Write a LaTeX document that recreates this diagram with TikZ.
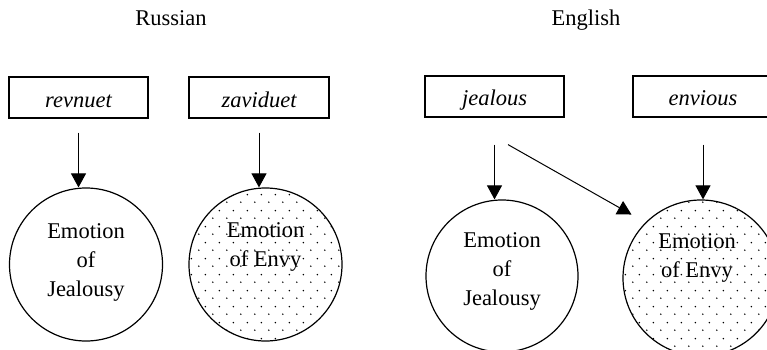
\documentclass[tikz,border=0pt]{standalone}
\usepackage{fontspec}
\setmainfont{Liberation Serif}
\usetikzlibrary{positioning,patterns,calc,arrows.meta}

\pgfdeclarepatternformonly{sparsedots}{\pgfpointorigin}{\pgfqpoint{14pt}{16pt}}{\pgfqpoint{14pt}{16pt}}{%
  \pgfpathcircle{\pgfqpoint{3pt}{4pt}}{0.9pt}%
  \pgfpathcircle{\pgfqpoint{10pt}{12pt}}{0.9pt}%
  \pgfusepath{fill}}

\begin{document}
\begin{tikzpicture}[x=1pt,y=-1pt]
                    \tikzstyle{every node}=[inner sep=0,font=\fontsize{22.5}{29}\selectfont]
                    \tikzstyle{lang}=[anchor=base]
                    \tikzstyle{word}=[draw,line width=1.2pt,rectangle,minimum height=41,text height=19,text depth=0,font=\fontsize{22.5}{29}\selectfont\itshape]
                    \tikzstyle{emotion}=[draw,line width=1.2pt,circle]
                    \tikzstyle{envy}=[emotion,pattern=sparsedots]
                    \tikzstyle{caption}=[align=center]
                    \tikzstyle{link}=[-{Triangle[width=15pt,length=14pt]},line width=1pt]
                    \useasboundingbox (0,0) rectangle (767,350);
                    \clip (0,0) rectangle (767,350);
                    {
                        \node[lang] (russian) at (171,26) {Russian};
                        \node[lang] (english) at (586,26) {English};

                        \node[word,minimum width=139] (revnuet) at (78.5,97.5) {revnuet};
                        \node[word,minimum width=140] (zaviduet) at (259,97.5) {zaviduet};
                        \node[word,minimum width=139] (jealous) at (494.5,96.5) {jealous};
                        \node[word,minimum width=140] (envious) at (703,96.5) {envious};

                        \node[emotion,minimum size=153] (jealR) at (86,264.5) {};
                        \node[envy,minimum size=153] (envyR) at (265.5,264.5) {};
                        \node[emotion,minimum size=152] (jealE) at (502,276) {};
                        \node[envy,minimum size=156] (envyE) at (701,278) {};

                        \node[caption] (jealRtext) at (86,262) {Emotion\\of\\Jealousy};
                        \node[caption] (envyRtext) at (265.5,247) {Emotion\\of Envy};
                        \node[caption] (jealEtext) at (502,271) {Emotion\\of\\Jealousy};
                        \node[caption] (envyEtext) at (697,258) {Emotion\\of Envy};

                        \draw[link] ([yshift=-14]revnuet.south) -- (revnuet.south |- jealR.north);
                        \draw[link] ([yshift=-14]zaviduet.south) -- (zaviduet.south |- envyR.north);
                        \draw[link] ([yshift=-27]jealous.south) -- (jealous.south |- jealE.north);
                        \draw[link] ([yshift=-27]envious.south) -- (envious.south |- envyE.north);
                        \draw[link,shorten >=16] ([xshift=13.5,yshift=-27]jealous.south) -- (envyE.north west);
                    }
\end{tikzpicture}
\end{document}
